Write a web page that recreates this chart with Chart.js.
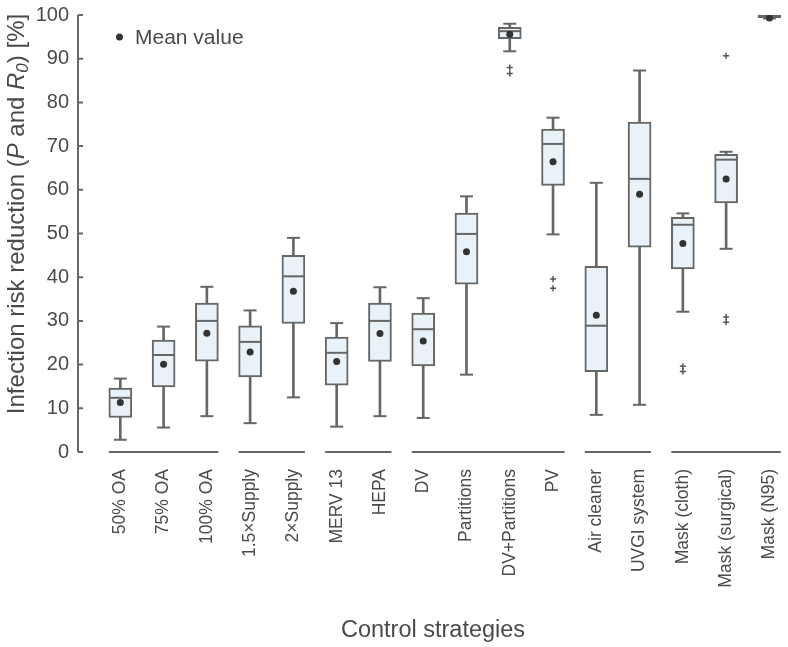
<!DOCTYPE html>
<html>
<head>
<meta charset="utf-8">
<script src="https://cdn.jsdelivr.net/npm/chart.js@4.4.0/dist/chart.umd.min.js"></script>
<style>
html,body{margin:0;padding:0;background:#fff;}
canvas{display:block;}
</style>
</head>
<body>
<canvas id="boxChart" width="788" height="647"></canvas>
<script>

/* DATA */

const categories = ["50% OA","75% OA","100% OA","1.5×Supply","2×Supply","MERV 13","HEPA","DV","Partitions","DV+Partitions","PV","Air cleaner","UVGI system","Mask (cloth)","Mask (surgical)","Mask (N95)"];

const whiskerLow  = [2.8, 5.6, 8.2, 6.6, 12.5, 5.8, 8.2, 7.8, 17.7, 91.7, 49.8, 8.5, 10.8, 32.1, 46.5, 99.2];
const quartile1   = [7.9, 14.9, 20.8, 17.2, 29.4, 15.3, 20.7, 19.7, 38.4, 94.6, 61.0, 18.4, 46.9, 41.9, 57.0, 99.4];
const medians     = [12.4, 22.2, 30.0, 25.2, 40.2, 22.7, 30.0, 28.1, 49.9, 96.3, 70.5, 28.9, 62.5, 52.0, 66.9, 99.7];
const quartile3   = [14.6, 25.6, 34.1, 28.9, 45.0, 26.3, 34.1, 31.8, 54.7, 97.2, 73.9, 42.5, 75.5, 53.7, 68.1, 99.9];
const whiskerHigh = [16.8, 28.7, 37.8, 32.4, 49.0, 29.5, 37.7, 35.2, 58.5, 98.0, 76.5, 61.6, 87.3, 54.6, 68.7, 100];
const means       = [11.3, 20.1, 27.2, 22.9, 36.8, 20.7, 27.1, 25.4, 45.8, 95.6, 66.4, 31.3, 59.0, 47.7, 62.5, 99.3];

// [category index, value]
const outliers = [[9,88.0],[9,86.6],[10,39.6],[10,37.5],[13,19.6],[13,18.4],[14,90.7],[14,30.9],[14,29.7]];

// strategy groups, first and last category index
const groups = [[0,2],[3,4],[5,6],[7,10],[11,12],[13,15]];

const yTicks = [0,10,20,30,40,50,60,70,80,90,100];

const lineGrey = "#666666";
const textGrey = "#4a4a4a";
const boxWidth = 23;

Chart.defaults.font.family = "'Liberation Sans', Arial, sans-serif";
Chart.defaults.color = textGrey;

const pts = arr => arr.map((v,i)=>({x:i,y:v}));


/* EXTRA DRAWING: axis line, group lines, y title, legend */

const decorPlugin = {
id:"decor",
afterDraw(chart){
const ctx = chart.ctx;
const xs = chart.scales.x, ys = chart.scales.y;
const axisX = chart.chartArea.left;
ctx.save();
ctx.strokeStyle = lineGrey;
ctx.lineWidth = 2;

// y axis with inward ticks
ctx.beginPath();
ctx.moveTo(axisX, ys.getPixelForValue(0));
ctx.lineTo(axisX, ys.getPixelForValue(100));
yTicks.forEach(t=>{
const y = ys.getPixelForValue(t);
ctx.moveTo(axisX, y);
ctx.lineTo(axisX+5, y);
});
ctx.stroke();

// group lines under the boxes
const y0 = ys.getPixelForValue(0);
ctx.beginPath();
groups.forEach(g=>{
ctx.moveTo(xs.getPixelForValue(g[0]) - boxWidth/2, y0);
ctx.lineTo(xs.getPixelForValue(g[1]) + boxWidth/2, y0);
});
ctx.stroke();

// y axis title with italic P and R0
const size = 24;
const parts = [
{t:"Infection risk reduction (", f:`${size}px 'Liberation Sans', Arial`},
{t:"P", f:`italic ${size}px 'Liberation Sans', Arial`},
{t:" and ", f:`${size}px 'Liberation Sans', Arial`},
{t:"R", f:`italic ${size}px 'Liberation Sans', Arial`},
{t:"0", f:`italic ${Math.round(size*0.7)}px 'Liberation Sans', Arial`, sub:true},
{t:") [%]", f:`${size}px 'Liberation Sans', Arial`}
];
let total = 0;
parts.forEach(p=>{ ctx.font = p.f; p.w = ctx.measureText(p.t).width; total += p.w; });
ctx.translate(24, 214);
ctx.rotate(-Math.PI/2);
ctx.fillStyle = textGrey;
ctx.textBaseline = "alphabetic";
ctx.textAlign = "left";
let cx = -total/2;
parts.forEach(p=>{
ctx.font = p.f;
ctx.fillText(p.t, cx, p.sub ? 4 : 0);
cx += p.w;
});
ctx.restore();

// legend for the mean marker
const meanSet = chart.data.datasets.find(d=>d.label==="Mean value");
ctx.save();
ctx.fillStyle = meanSet.backgroundColor;
ctx.beginPath();
ctx.arc(119.5, 37, meanSet.pointRadius, 0, Math.PI*2);
ctx.fill();
ctx.font = "21px 'Liberation Sans', Arial";
ctx.fillStyle = textGrey;
ctx.textBaseline = "middle";
ctx.fillText(meanSet.label, 135, 38);
ctx.restore();
}
};


/* BOX PLOT */

new Chart(
document.getElementById("boxChart"),
{
type:"bar",
data:{
datasets:[
{
label:"Whisker",
data:whiskerLow.map((v,i)=>({x:i,y:[v,whiskerHigh[i]]})),
backgroundColor:lineGrey,
barThickness:2,
grouped:false,
order:6
},
{
label:"Box",
data:quartile1.map((v,i)=>({x:i,y:[v,quartile3[i]]})),
backgroundColor:"#e8f2f8",
borderColor:lineGrey,
borderWidth:2,
borderSkipped:false,
barThickness:boxWidth,
grouped:false,
order:5
},
{
type:"scatter",
label:"Median",
data:pts(medians),
pointStyle:"line",
pointRadius:boxWidth/2 - 1,
borderColor:lineGrey,
borderWidth:2,
order:3
},
{
type:"scatter",
label:"Cap low",
data:pts(whiskerLow),
pointStyle:"line",
pointRadius:6.5,
borderColor:lineGrey,
borderWidth:2,
order:3
},
{
type:"scatter",
label:"Cap high",
data:pts(whiskerHigh),
pointStyle:"line",
pointRadius:6.5,
borderColor:lineGrey,
borderWidth:2,
order:3
},
{
type:"scatter",
label:"Mean value",
data:pts(means),
pointStyle:"circle",
pointRadius:3.5,
backgroundColor:"#333333",
borderWidth:0,
order:1
},
{
type:"scatter",
label:"Outlier",
data:outliers.map(o=>({x:o[0],y:o[1]})),
pointStyle:"cross",
pointRadius:3,
borderColor:"#555555",
borderWidth:1.5,
order:1
}
]
},
options:{
responsive:false,
animation:false,
layout:{autoPadding:false,padding:{top:15,right:0,bottom:0,left:0}},
plugins:{
legend:{display:false},
tooltip:{enabled:false}
},
scales:{
x:{
type:"linear",
min:-0.978,
max:15.43,
offset:false,
grid:{display:false,drawTicks:false},
border:{display:false},
afterBuildTicks:(scale)=>{ scale.ticks = categories.map((c,i)=>({value:i})); },
afterFit:(scale)=>{ scale.height = 195; scale.paddingLeft = 0; scale.paddingRight = 0; },
ticks:{
autoSkip:false,
maxRotation:90,
minRotation:90,
padding:17,
font:{size:17.5},
color:textGrey,
callback:(v)=>categories[v]
},
title:{
display:true,
text:"Control strategies",
font:{size:23.5},
color:textGrey,
padding:{top:0,bottom:2}
}
},
y:{
min:0,
max:100,
grid:{display:false,drawTicks:false},
border:{display:false},
afterBuildTicks:(scale)=>{ scale.ticks = yTicks.map(v=>({value:v})); },
afterFit:(scale)=>{ scale.width = 78; scale.paddingTop = 0; scale.paddingBottom = 0; },
ticks:{
padding:9,
font:{size:20},
color:textGrey
}
}
}
},
plugins:[decorPlugin]
}
);

</script>
</body>
</html>
